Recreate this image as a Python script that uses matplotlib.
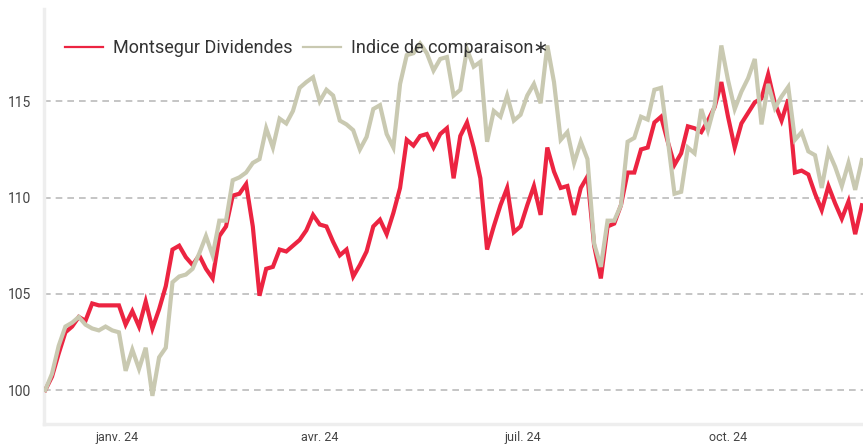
import matplotlib
matplotlib.use("Agg")
import matplotlib.pyplot as plt
import pandas as pd

# one value every 3 calendar days, 30 Nov 2023 -> 30 Nov 2024
start_date = "2023-11-30"
n_points = 123

fund_values = [
    100.0, 100.7, 101.9, 103.0, 103.3, 103.8, 103.6, 104.5, 104.4, 104.4,
    104.4, 104.4, 103.4, 104.1, 103.3, 104.6, 103.2, 104.2, 105.4, 107.3,
    107.5, 106.9, 106.5, 107.0, 106.3, 105.8, 108.0, 108.5, 110.1, 110.2,
    110.7, 108.5, 104.9, 106.3, 106.4, 107.3, 107.2, 107.5, 107.8, 108.3,
    109.1, 108.6, 108.5, 107.7, 107.0, 107.3, 105.9, 106.5, 107.2, 108.5,
    108.85, 108.1, 109.2, 110.5, 113.0, 112.7, 113.2, 113.3, 112.6, 113.3,
    113.6, 111.0, 113.2, 113.9, 112.6, 111.0, 107.3, 108.5, 109.6, 110.5,
    108.2, 108.5, 109.6, 110.6, 109.1, 112.6, 111.35, 110.5, 110.6, 109.1,
    110.5, 111.1, 107.5, 105.8, 108.5, 108.65, 109.6, 111.3, 111.3, 112.5,
    112.6, 113.9, 114.2, 112.9, 111.7, 112.3, 113.7, 113.6, 113.4, 114.0,
    114.7, 116.0, 114.2, 112.6, 113.85, 114.4, 114.95, 115.15, 116.4, 114.9,
    114.0, 115.1, 111.3, 111.4, 111.2, 110.2, 109.35, 110.6, 109.7, 108.9,
    109.8, 108.1, 109.6,
]

index_values = [
    100.0, 100.85, 102.3, 103.3, 103.5, 103.8, 103.4, 103.2, 103.1, 103.3,
    103.1, 103.0, 101.0, 102.1, 101.1, 102.2, 99.7, 101.7, 102.2, 105.6,
    105.9, 106.0, 106.3, 107.1, 108.0, 107.0, 108.8, 108.8, 110.9, 111.05,
    111.3, 111.8, 112.0, 113.6, 112.6, 114.1, 113.85, 114.5, 115.7, 116.0,
    116.25, 115.0, 115.6, 115.3, 114.0, 113.8, 113.5, 112.5, 113.15, 114.6,
    114.8, 113.3, 112.6, 115.9, 117.4, 117.5, 118.0, 117.5, 116.6, 117.2,
    117.3, 115.3, 115.6, 117.7, 116.8, 117.05, 112.9, 114.5, 114.2, 115.3,
    114.0, 114.3, 115.3, 115.9, 114.9, 117.9, 116.0, 113.0, 113.4, 111.8,
    112.9, 112.0, 107.6, 106.4, 108.8, 108.8, 109.6, 112.9, 113.1, 114.2,
    114.05, 115.6, 115.7, 113.0, 110.2, 110.3, 112.6, 112.3, 114.6, 113.5,
    114.8, 117.9, 116.1, 114.6, 115.5, 116.2, 117.2, 113.8, 115.9, 114.65,
    115.25, 115.75, 113.0, 113.4, 112.4, 112.2, 110.5, 112.4, 111.6, 110.6,
    111.8, 110.4, 111.95,
]

series_names = ["Montsegur Dividendes", "Indice de comparaison\u2217"]
y_ticks = [100, 105, 110, 115]
x_tick_dates = ["2024-01-01", "2024-04-01", "2024-07-01", "2024-10-01"]
x_tick_labels = ["janv. 24", "avr. 24", "juil. 24", "oct. 24"]

RED = "#EC2441"
BEIGE = "#C9C9B1"

plt.rcParams["font.family"] = ["Roboto", "DejaVu Sans"]

dates = pd.date_range(start_date, periods=n_points, freq="3D")

fig = plt.figure(figsize=(8.63, 4.46), dpi=100)
ax = fig.add_axes([0.051, 0.049, 0.949, 0.931])

ax.plot(dates, fund_values, color=RED, lw=3.0, label=series_names[0],
        solid_joinstyle="miter", zorder=3)
ax.plot(dates, index_values, color=BEIGE, lw=3.0, label=series_names[1],
        solid_joinstyle="miter", zorder=4)

ax.set_ylim(98.23, 119.8)
ax.set_xlim(pd.Timestamp("2023-11-29 10:00"), pd.Timestamp("2024-11-30 12:00"))

ax.set_yticks(y_ticks)
ax.set_yticklabels([str(t) for t in y_ticks])
ax.set_xticks([pd.Timestamp(d) for d in x_tick_dates])
ax.set_xticklabels(x_tick_labels)
ax.tick_params(axis="y", length=0, pad=9, labelsize=10, labelcolor="#444444")
ax.tick_params(axis="x", length=0, pad=5, labelsize=9, labelcolor="#444444")

ax.grid(axis="y", color="#BBBBBB", linestyle=(0, (4, 3)), linewidth=1.2)
ax.set_axisbelow(True)

for side in ["top", "right"]:
    ax.spines[side].set_visible(False)
for side in ["left", "bottom"]:
    ax.spines[side].set_color("#EEEEEE")
    ax.spines[side].set_linewidth(2.5)

leg = ax.legend(loc="upper left", ncol=2, frameon=False, fontsize=13,
                handlelength=2.1, handletextpad=0.55, columnspacing=0.6,
                bbox_to_anchor=(0.01, 0.958), borderaxespad=0.3)
for line in leg.get_lines():
    line.set_linewidth(1.6)
for txt in leg.get_texts():
    txt.set_color("#333333")

fig.savefig("out.png", dpi=100)
